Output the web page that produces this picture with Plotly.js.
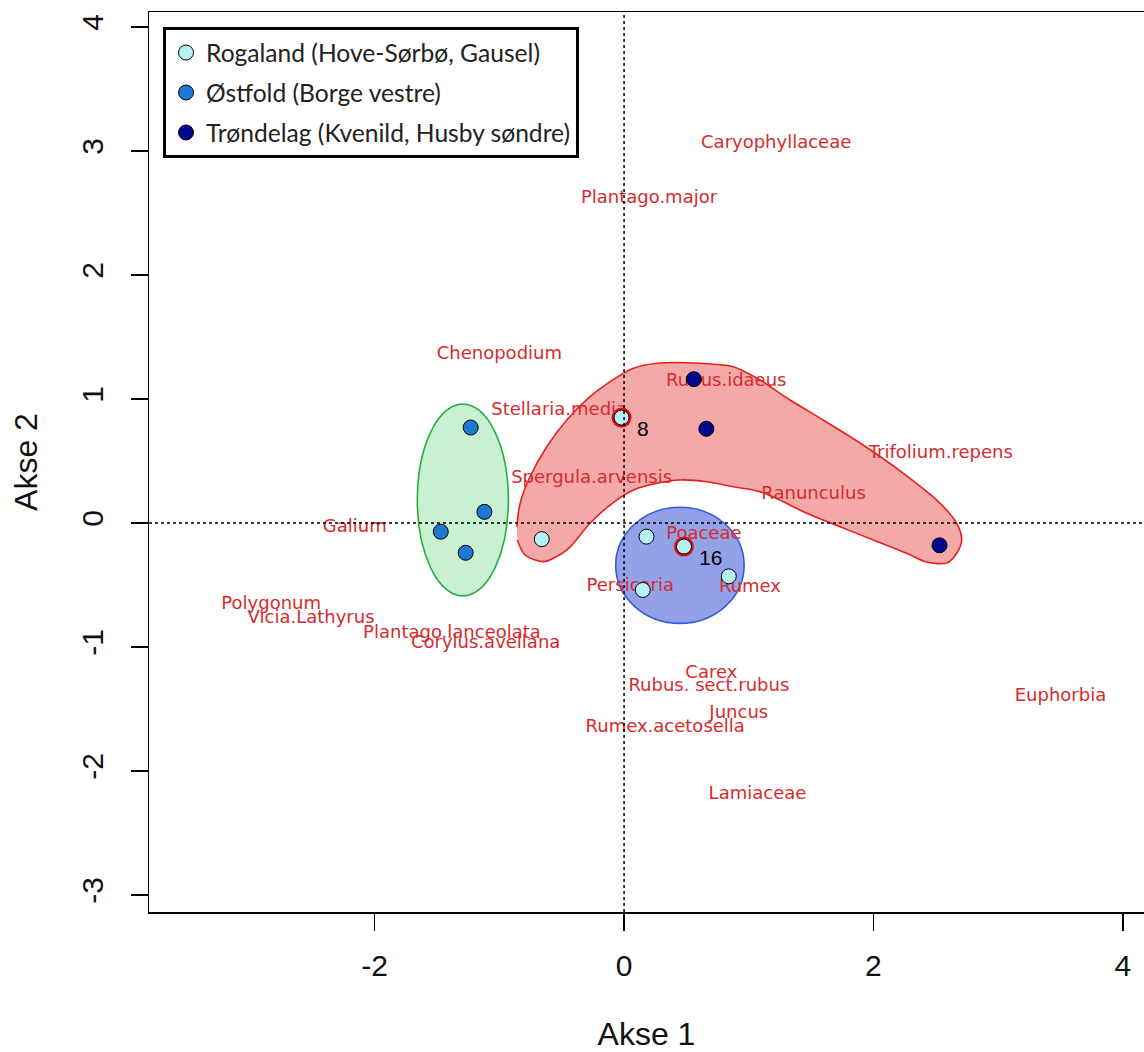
<!DOCTYPE html>
<html><head><meta charset="utf-8">
<script src="https://cdn.plot.ly/plotly-3.0.1.min.js"></script>
<style>html,body{margin:0;padding:0;background:#fff;overflow:hidden}</style>
</head><body><div id="chart" style="width:1144px;height:1052px"></div>
<script>
// ---- Site scores (Akse 1, Akse 2) ----
const rogalandX = [-0.66, -0.02, 0.18, 0.48, 0.15, 0.84];
const rogalandY = [-0.13, 0.85, -0.11, -0.19, -0.54, -0.43];
const rogalandLabels = ["", "8", "", "16", "", ""];
const ostfoldX = [-1.23, -1.12, -1.47, -1.27];
const ostfoldY = [0.77, 0.09, -0.07, -0.24];
const trondelagX = [0.56, 0.66, 2.53];
const trondelagY = [1.16, 0.76, -0.18];
const groupNames = ["Rogaland (Hove-Sørbø, Gausel)", "Østfold (Borge vestre)", "Trøndelag (Kvenild, Husby søndre)"];

// ---- Species scores ----
const speciesNames = ["Caryophyllaceae", "Plantago.major", "Chenopodium", "Rubus.idaeus", "Stellaria.media",
  "Spergula.arvensis", "Trifolium.repens", "Ranunculus", "Galium", "Poaceae", "Persicaria", "Rumex",
  "Polygonum", "Vicia.Lathyrus", "Plantago.lanceolata", "Corylus.avellana", "Carex", "Rubus. sect.rubus",
  "Juncus", "Rumex.acetosella", "Lamiaceae", "Euphorbia"];
const speciesX = [1.22, 0.20, -1.00, 0.82, -0.52, -0.26, 2.54, 1.52, -2.16, 0.64, 0.05, 1.01,
  -2.83, -2.51, -1.38, -1.11, 0.70, 0.68, 0.92, 0.33, 1.07, 3.50];
const speciesY = [3.06, 2.62, 1.36, 1.14, 0.91, 0.36, 0.56, 0.23, -0.04, -0.09, -0.51, -0.52,
  -0.66, -0.77, -0.89, -0.97, -1.21, -1.32, -1.54, -1.65, -2.19, -1.40];

// ---- Group outlines ----
const hullX = [-0.860, -0.834, -0.754, -0.620, -0.460, -0.273, -0.112, 0.075, 0.262, 0.609, 0.877, 1.091,
  1.331, 1.596, 1.917, 2.237, 2.508, 2.668, 2.708, 2.668, 2.588, 2.427, 2.267, 1.999, 1.732, 1.465,
  1.277, 1.091, 0.877, 0.663, 0.449, 0.262, 0.075, -0.112, -0.273, -0.460, -0.647, -0.794, -0.856];
const hullY = [-0.030, 0.159, 0.373, 0.615, 0.831, 1.019, 1.140, 1.248, 1.288, 1.288, 1.260, 1.153,
  0.992, 0.831, 0.629, 0.403, 0.185, -0.002, -0.137, -0.244, -0.323, -0.315, -0.244, -0.137, -0.030, 0.078,
  0.172, 0.252, 0.293, 0.333, 0.347, 0.320, 0.266, 0.145, -0.002, -0.218, -0.312, -0.258, -0.137];
const ellipseCX = [-1.293, 0.448];
const ellipseCY = [0.186, -0.341];
const ellipseRX = [0.365, 0.515];
const ellipseRY = [0.774, 0.468];

const xTicks = [-2, 0, 2, 4];
const yTicks = [-3, -2, -1, 0, 1, 2, 3, 4];

// ---- build ----
const hiX = [], hiY = [], hiT = [];
rogalandLabels.forEach((t, i) => { if (t) { hiX.push(rogalandX[i]); hiY.push(rogalandY[i]); hiT.push(t); } });

const tickFont = {family: "Liberation Sans Narrow, Arial Narrow, Liberation Sans, Arial, sans-serif", size: 30, color: "#111"};
const titleFont = {family: "Liberation Sans Narrow, Arial Narrow, Liberation Sans, Arial, sans-serif", size: 32, color: "#111"};

const traces = [
  {type: "scatter", x: hullX, y: hullY, mode: "lines", line: {shape: "spline", smoothing: 0.8, color: "#e6201e", width: 1.6},
   fill: "toself", fillcolor: "rgba(228,40,40,0.40)", showlegend: false, hoverinfo: "skip"},
  {type: "scatter", x: speciesX, y: speciesY, mode: "text", text: speciesNames, textposition: "middle center",
   textfont: {family: "DejaVu Sans, sans-serif", size: 18, color: "#d42c2e"}, showlegend: false, hoverinfo: "text"},
  {type: "scatter", x: hiX, y: hiY, mode: "markers",
   marker: {size: 20, color: "#e01010", line: {width: 0}}, showlegend: false, hoverinfo: "skip"},
  {type: "scatter", x: rogalandX, y: rogalandY, mode: "markers", name: groupNames[0], legendgroup: "a",
   marker: {size: 15, color: "#b4f0f4", line: {color: "#000", width: 1}}},
  {type: "scatter", x: ostfoldX, y: ostfoldY, mode: "markers", name: groupNames[1], legendgroup: "b",
   marker: {size: 15, color: "#1c78d0", line: {color: "#000", width: 1}}},
  {type: "scatter", x: trondelagX, y: trondelagY, mode: "markers", name: groupNames[2], legendgroup: "c",
   marker: {size: 15, color: "#00098c", line: {color: "#000", width: 1}}}
];

const annotations = hiT.map((t, i) => ({x: hiX[i], y: hiY[i], xref: "x", yref: "y", text: t, showarrow: false,
  xanchor: "left", yanchor: "top", xshift: 13, yshift: 3,
  font: {family: "Liberation Sans, Arial, sans-serif", size: 21, color: "#000"}}));

const ellipseFill = ["rgba(60,200,85,0.28)", "rgba(40,70,210,0.50)"];
const ellipseLine = ["#25b040", "#3558e0"];
const shapes = [];
ellipseCX.forEach((cx, i) => {
  shapes.push({type: "circle", xref: "x", yref: "y", x0: cx - ellipseRX[i], x1: cx + ellipseRX[i],
    y0: ellipseCY[i] - ellipseRY[i], y1: ellipseCY[i] + ellipseRY[i], layer: "below",
    fillcolor: ellipseFill[i], line: {color: ellipseLine[i], width: 1.6}});
});
shapes.push({type: "line", xref: "paper", yref: "y", x0: 0, x1: 1, y0: 0, y1: 0, layer: "above",
  line: {color: "#000", width: 1.5, dash: "3px,3px"}});
shapes.push({type: "line", xref: "x", yref: "paper", x0: 0, x1: 0, y0: 0, y1: 1, layer: "above",
  line: {color: "#000", width: 1.5, dash: "3px,3px"}});

const layout = {
  width: 1144, height: 1052,
  margin: {l: 149, r: 0, t: 12, b: 140},
  paper_bgcolor: "#fff", plot_bgcolor: "#fff",
  showlegend: true,
  xaxis: {range: [-3.81, 4.17], tickvals: xTicks, ticktext: xTicks.map(String), showgrid: false, zeroline: false,
    showline: true, mirror: true, linecolor: "#000", linewidth: 1.5, ticks: "outside", ticklen: 17, tickwidth: 1.5,
    tickcolor: "#000", tickfont: tickFont, ticklabelstandoff: 9,
    title: {text: "Akse 1", font: titleFont, standoff: 52}},
  yaxis: {range: [-3.137, 4.121], tickvals: yTicks, ticktext: yTicks.map(String), showgrid: false, zeroline: false,
    showline: true, mirror: false, linecolor: "#000", linewidth: 1.5, ticks: "outside", ticklen: 17, tickwidth: 1.5,
    tickcolor: "#000", tickfont: tickFont, tickangle: -90, ticklabelstandoff: 16,
    title: {text: "Akse 2", font: titleFont, standoff: 28}},
  legend: {x: 0.0141, y: 0.9833, xanchor: "left", yanchor: "top", bordercolor: "#000", borderwidth: 3,
    bgcolor: "#fff", font: {family: "Lato, Carlito, sans-serif", size: 24.6, color: "#222"}, tracegroupgap: 5},
  annotations: annotations,
  shapes: shapes
};

Plotly.newPlot("chart", traces, layout, {staticPlot: true});
</script></body></html>
